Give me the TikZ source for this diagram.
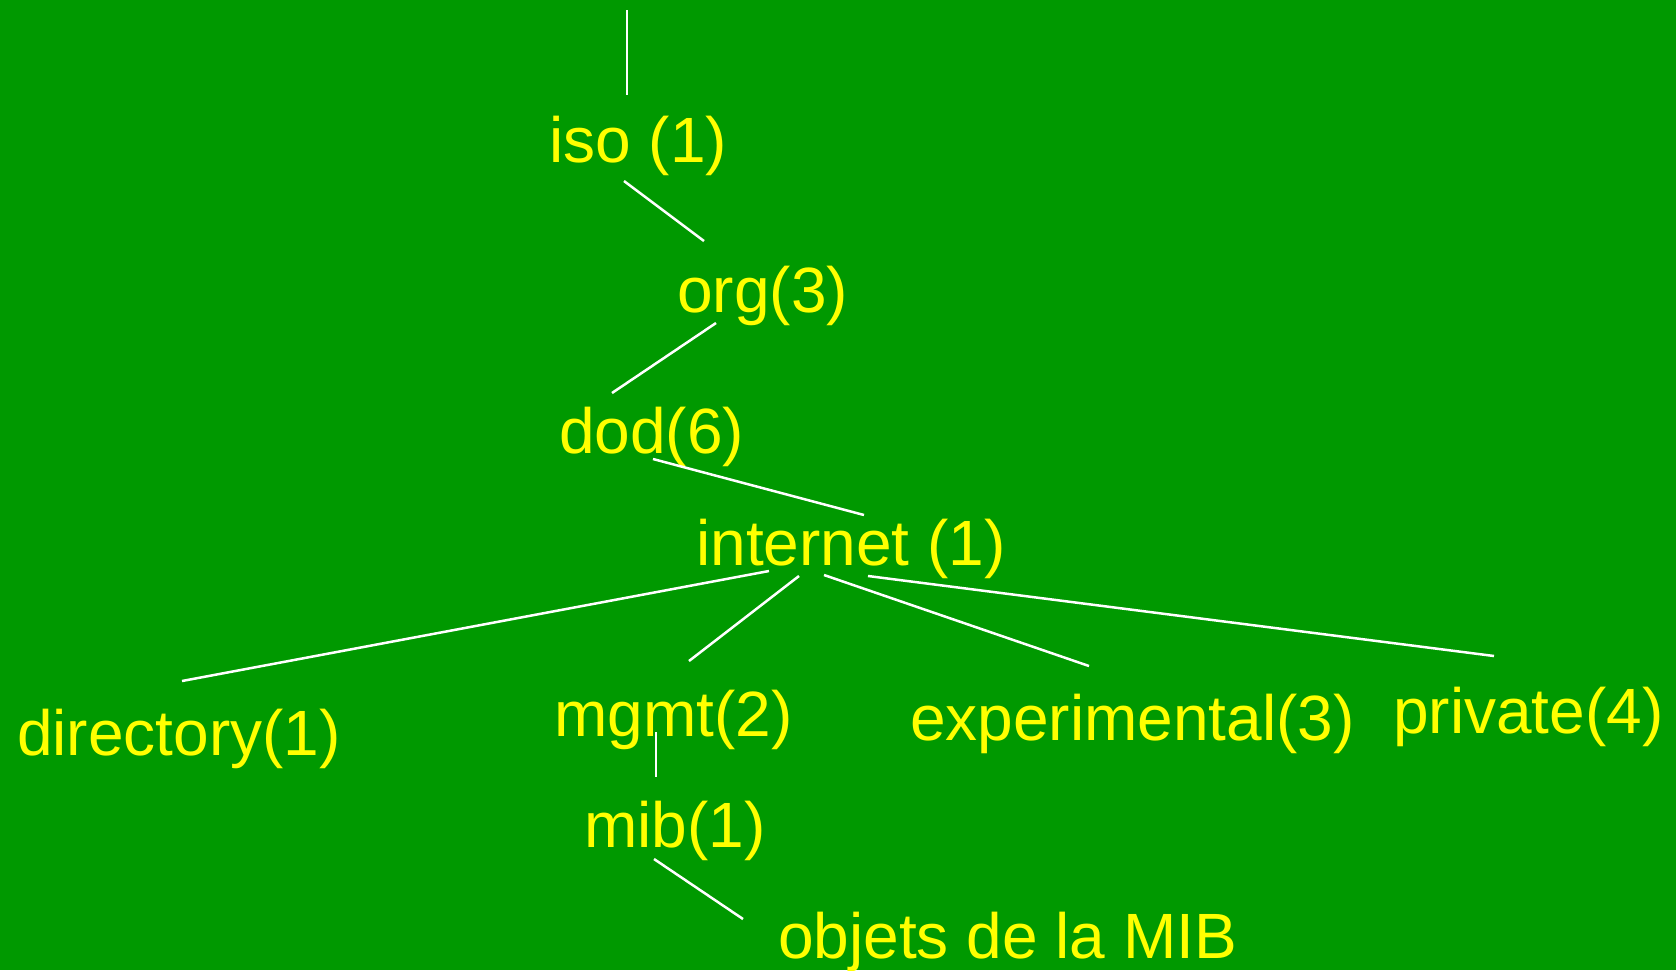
\documentclass[tikz,border=0pt]{standalone}
\usepackage{fontspec}
\setmainfont{Liberation Sans}
\definecolor{bggreen}{RGB}{0,153,0}
\definecolor{txtyellow}{RGB}{255,255,0}
\tikzset{
  lbl/.style={anchor=base west, inner sep=0pt, text=txtyellow, font=\fontsize{64}{76}\selectfont},
  edge/.style={draw=white, line width=2.5pt}
}
\begin{document}
\begin{tikzpicture}[x=1pt,y=-1pt]
\fill[bggreen] (0,0) rectangle (1676,970);
\useasboundingbox (0,0) rectangle (1676,970);
% labels
\node[lbl] (iso) at (549,162) {iso (1)};
\node[lbl] (org) at (677,312) {org(3)};
\node[lbl] (dod) at (559,453) {dod(6)};
\node[lbl] (internet) at (696,565) {internet (1)};
\node[lbl] (directory) at (17,755) {directory(1)};
\node[lbl] (mgmt) at (554,736) {mgmt(2)};
\node[lbl] (mib) at (584,847) {mib(1)};
\node[lbl] (experimental) at (910,740) {experimental(3)};
\node[lbl] (private) at (1393,733) {private(4)};
\node[lbl] (objets) at (778,958) {objets de la MIB};
% connector ends
\coordinate (root) at (627,10);
\coordinate (isoT) at (627,95);
\coordinate (isoB) at (624,181);
\coordinate (orgT) at (704,241);
\coordinate (orgB) at (716,323);
\coordinate (dodT) at (612,393);
\coordinate (dodB) at (653,459);
\coordinate (intT) at (864,515);
\coordinate (intB1) at (769,571);
\coordinate (intB2) at (799,576);
\coordinate (intB3) at (824,575);
\coordinate (intB4) at (868,576);
\coordinate (dirT) at (182,681);
\coordinate (mgmtT) at (689,661);
\coordinate (expT) at (1089,666);
\coordinate (privT) at (1494,656);
\coordinate (mgmtB) at (656,732);
\coordinate (mibT) at (656,777);
\coordinate (mibB) at (654,859);
\coordinate (objT) at (743,919);
% connectors
\draw[edge] (root) -- (isoT);
\draw[edge] (isoB) -- (orgT);
\draw[edge] (orgB) -- (dodT);
\draw[edge] (dodB) -- (intT);
\draw[edge] (intB1) -- (dirT);
\draw[edge] (intB2) -- (mgmtT);
\draw[edge] (intB3) -- (expT);
\draw[edge] (intB4) -- (privT);
\draw[edge] (mgmtB) -- (mibT);
\draw[edge] (mibB) -- (objT);
\end{tikzpicture}
\end{document}
